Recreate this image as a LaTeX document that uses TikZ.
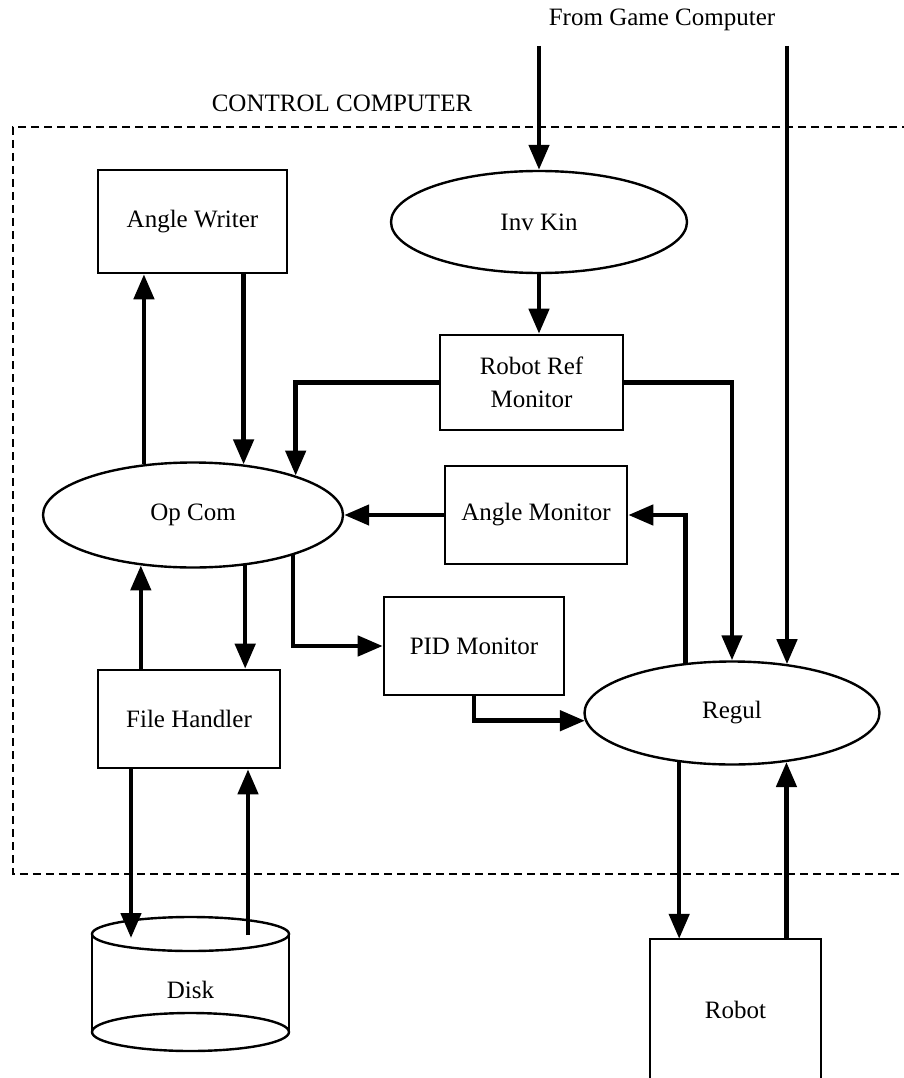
\documentclass[tikz,border=0pt]{standalone}
\usepackage{fontspec}
\setmainfont{Liberation Serif}
\usetikzlibrary{arrows.meta,shapes.geometric,calc}

\begin{document}
\begin{tikzpicture}[x=1pt,y=-1pt,
  every node/.style={font=\fontsize{25}{33}\selectfont},
  box/.style={draw, line width=2.6pt, rectangle, inner sep=0pt, align=center},
  oval/.style={draw, line width=2.4pt, ellipse, inner sep=0pt},
  flow/.style={line width=4.6pt, -{Triangle[length=25pt,width=20pt]}},
  outline/.style={line width=2.4pt},
  border/.style={line width=2pt, dash pattern=on 8pt off 5pt}]

\useasboundingbox (0,0) rectangle (903,1078);

% titles
\node (from) at (662,20) {From Game Computer};
\node (cc) at (342,103) {CONTROL COMPUTER};

% boundary of the control computer
\draw[border] (910,127) -- (13,127) -- (13,874) -- (910,874);

% inputs from the game computer
\coordinate (g1) at (539,46);
\coordinate (g2) at (787,46);

% processes and monitors
\node[box, minimum width=189pt, minimum height=103pt] (aw) at (192.5,221.5) {Angle Writer};
\node[oval, minimum width=296pt, minimum height=102pt] (ik) at (539,222) {Inv Kin};
\node[box, minimum width=183pt, minimum height=95pt] (rr) at (531.5,382.5) {Robot Ref\\Monitor};
\node[oval, minimum width=300pt, minimum height=105pt] (oc) at (193,515) {Op Com};
\node[box, minimum width=182pt, minimum height=98pt] (am) at (536,515) {Angle Monitor};
\node[box, minimum width=180pt, minimum height=98pt] (pid) at (474,646) {PID Monitor};
\node[box, minimum width=182pt, minimum height=98pt] (fh) at (189,719) {File Handler};
\node[oval, minimum width=295pt, minimum height=103pt] (rg) at (732,713) {Regul};

% disk storage
\node (disk) at (190.5,990) {Disk};
\draw[outline] (190.5,934) ellipse [x radius=98.5, y radius=17];
\draw[outline] (190.5,1032) ellipse [x radius=98.5, y radius=19];
\draw[outline] (92,934) -- (92,1032);
\draw[outline] (289,934) -- (289,1032);
\coordinate (dk1) at (131,938);
\coordinate (dk2) at (248,935);

% robot (open at the bottom)
\node[inner sep=0pt, minimum width=171pt, minimum height=142pt] (robot) at (735.5,1010) {Robot};
\draw[outline] (robot.south west) -- (robot.north west) -- (robot.north east) -- (robot.south east);

% data flows
\draw[flow] (g1) -- (ik.north);
\draw[flow] (g2) -- (g2 |- rg.41);
\draw[flow] (ik.south) -- (ik.south |- rr.north);
\draw[flow] (rr.west) -| (oc.21.7);
\draw[flow] (rr.east) -| (rg.north);
\draw[flow] (oc.134.7) -- (oc.134.7 |- aw.south);
\draw[flow] (oc.45.3 |- aw.south) -- (oc.45.3);
\draw[flow] (am.west) -- (oc.east);
\draw[flow] (rg.133.9) |- (am.east);
\draw[flow] (oc.-22.4) |- (pid.west);
\draw[flow] (pid.south) |- (rg.183.5);
\draw[flow] (oc.224.7 |- fh.north) -- (oc.224.7);
\draw[flow] (oc.-44.7) -- (oc.-44.7 |- fh.north);
\draw[flow] (dk1 |- fh.south) -- (dk1);
\draw[flow] (dk2) -- (dk2 |- fh.south);
\draw[flow] (rg.223.4) -- (rg.223.4 |- robot.north);
\draw[flow] (rg.-42.8 |- robot.north) -- (rg.-42.8);
\end{tikzpicture}
\end{document}
